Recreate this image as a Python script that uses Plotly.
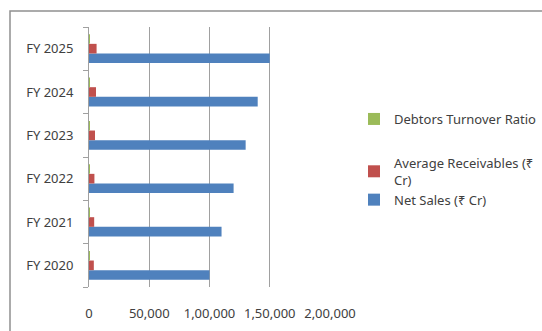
import plotly.graph_objects as go

years = ["FY 2020", "FY 2021", "FY 2022", "FY 2023", "FY 2024", "FY 2025"]
net_sales = [100000, 110000, 120000, 130000, 140000, 150000]
avg_receivables = [4000, 4300, 4500, 5000, 5800, 6300]
turnover_ratio = [25.0, 25.6, 26.7, 26.0, 24.1, 23.8]
x_ticks = [0, 50000, 100000, 150000, 200000]
x_tick_labels = ["0", "50,000", "1,00,000", "1,50,000", "2,00,000"]

FONT = "Noto Sans"
FS = 13
fig = go.Figure()
fig.add_trace(go.Bar(y=years, x=net_sales, orientation="h", name="Net Sales (₹ Cr)",
                     marker=dict(color="#4F81BD", line=dict(width=0)), legendgroup="b", legendrank=3))
fig.add_trace(go.Bar(y=years, x=avg_receivables, orientation="h", name="Average Receivables (₹<br>Cr)",
                     marker=dict(color="#C0504D", line=dict(width=0)), legendgroup="b", legendrank=2))
fig.add_trace(go.Bar(y=years, x=turnover_ratio, orientation="h", name="Debtors Turnover Ratio",
                     marker=dict(color="#9BBB59", line=dict(width=0)), legendgroup="a", legendrank=1))

L, R, T, B = 89, 212, 27, 44
W, H = 542, 331
pw, ph = W - L - R, H - T - B

fig.update_layout(
    width=W, height=H,
    margin=dict(l=L, r=R, t=T, b=B, pad=0, autoexpand=False),
    barmode="group", bargap=1.5/4.5, bargroupgap=0,
    paper_bgcolor="white", plot_bgcolor="white",
    font=dict(family=FONT, size=FS, color="#404040"),
    legend=dict(traceorder="grouped", tracegroupgap=24,
                x=(354 - L) / pw, xanchor="left", y=(T + ph - 104) / ph, yanchor="top",
                font=dict(family=FONT, size=FS, color="#404040"),
                itemwidth=30, bgcolor="rgba(0,0,0,0)"),
    showlegend=True,
    xaxis=dict(range=[0, 200000], tickvals=x_ticks, ticktext=x_tick_labels,
               showgrid=True, gridcolor="#A0A0A0", gridwidth=1, zeroline=False,
               showline=False, ticks="", ticklabelstandoff=17,
               tickfont=dict(family=FONT, size=FS, color="#404040"), fixedrange=True),
    yaxis=dict(type="category", categoryorder="array", categoryarray=years,
               showline=True, linecolor="#A0A0A0", linewidth=1,
               ticks="outside", ticklen=5, tickcolor="#A0A0A0", tickson="boundaries",
               showgrid=False, ticklabelstandoff=12,
               tickfont=dict(family=FONT, size=FS, color="#404040"), fixedrange=True),
)

fig.add_shape(type="rect", xref="paper", yref="paper",
              x0=(10 - L) / pw, x1=(545 - L) / pw,
              y0=(T + ph - 340) / ph, y1=(T + ph - 11) / ph,
              line=dict(color="#909090", width=1.5), fillcolor="rgba(0,0,0,0)", layer="below")

fig.write_html("out.html")
